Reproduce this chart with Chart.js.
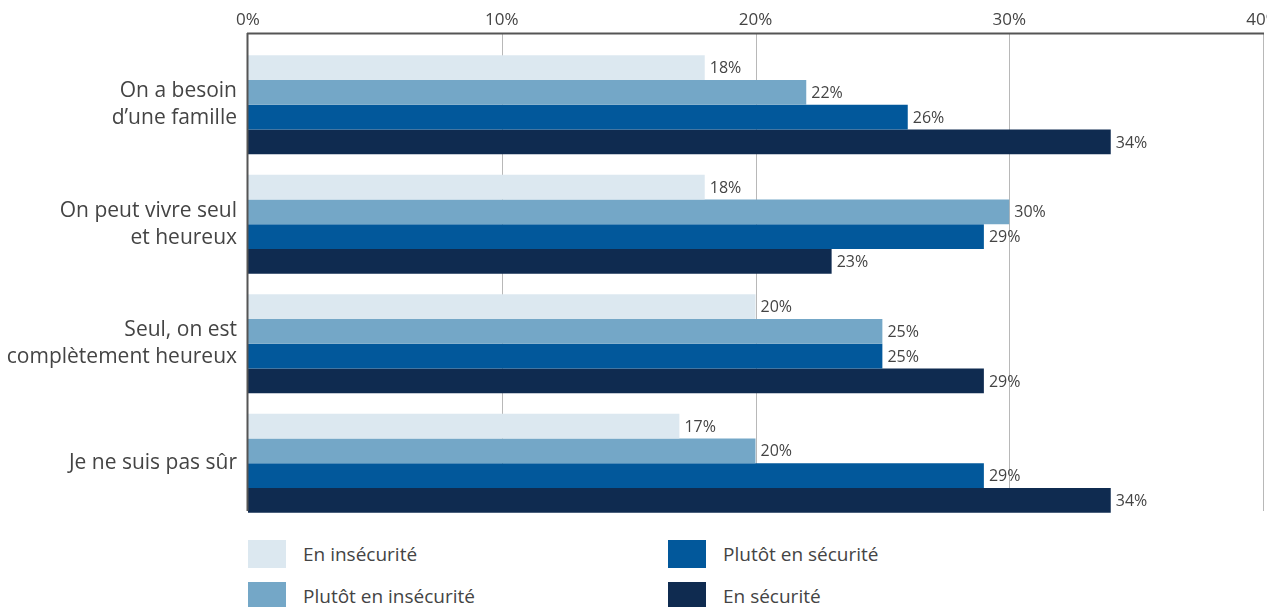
<!DOCTYPE html>
<html>
<head>
<meta charset="utf-8">
<script src="https://cdn.jsdelivr.net/npm/chart.js@4"></script>
<style>
  body { margin: 0; background: #fff; font-family: "Open Sans", sans-serif; }
  #wrap { position: relative; width: 1267px; height: 607px; overflow: hidden; }
  #chart { position: absolute; left: 0; top: 0; }
  .item { position: absolute; display: flex; align-items: center; height: 28px; font-size: 19px; color: #444; }
  .item span.box { width: 38px; height: 28px; margin-right: 17px; }
</style>
</head>
<body>
<div id="wrap">
  <canvas id="chart" width="1267" height="540"></canvas>
  <div id="legend"></div>
</div>
<script>
const categories = [["On a besoin", "d’une famille"], ["On peut vivre seul", "et heureux"], ["Seul, on est", "complètement heureux"], "Je ne suis pas sûr"];
const seriesNames = ["En insécurité", "Plutôt en insécurité", "Plutôt en sécurité", "En sécurité"];
const enInsecurite = [18, 18, 20, 17];
const plutotInsecurite = [22, 30, 25, 20];
const plutotSecurite = [26, 29, 25, 29];
const enSecurite = [34, 23, 29, 34];
const xTicks = [0, 10, 20, 30, 40];
const colors = ['#dce8f0', '#74a7c7', '#02589b', '#0f2b50'];

const seriesData = [enInsecurite, plutotInsecurite, plutotSecurite, enSecurite];

// gridlines + axis frame sit 12px above the category band (as in the original)
const framePlugin = {
    id: 'frame',
    beforeDatasetsDraw(chart) {
        const ctx = chart.ctx, a = chart.chartArea, x = chart.scales.x;
        ctx.save();
        ctx.strokeStyle = '#b8b8b8';
        ctx.lineWidth = 1;
        xTicks.slice(1).forEach(v => {
            const px = Math.round(x.getPixelForValue(v)) + 0.5;
            ctx.beginPath();
            ctx.moveTo(px, a.top - 12);
            ctx.lineTo(px, a.bottom - 12);
            ctx.stroke();
        });
        ctx.restore();
    },
    afterDatasetsDraw(chart) {
        const ctx = chart.ctx, a = chart.chartArea;
        ctx.save();
        ctx.strokeStyle = '#555';
        ctx.lineWidth = 2;
        ctx.beginPath();
        ctx.moveTo(a.left - 1, a.top - 11.5);
        ctx.lineTo(a.right + 1, a.top - 11.5);
        ctx.moveTo(a.left - 0.5, a.top - 12);
        ctx.lineTo(a.left - 0.5, a.bottom - 12);
        ctx.stroke();

        ctx.font = '16px "Open Sans"';
        ctx.fillStyle = '#444';
        ctx.textBaseline = 'middle';
        ctx.textAlign = 'left';
        chart.data.datasets.forEach((ds, i) => {
            chart.getDatasetMeta(i).data.forEach((bar, j) => {
                ctx.fillText(ds.data[j] + '%', bar.x + 5, bar.y + 1);
            });
        });
        ctx.restore();
    }
};

const ctx = document.getElementById('chart').getContext('2d');
new Chart(ctx, {
    type: 'bar',
    data: {
        labels: categories,
        datasets: seriesNames.map((name, i) => ({
            label: name,
            data: seriesData[i],
            backgroundColor: colors[i],
            borderWidth: 0,
            categoryPercentage: 0.83,
            barPercentage: 1
        }))
    },
    options: {
        indexAxis: 'y',
        responsive: false,
        animation: false,
        devicePixelRatio: 1,
        layout: { padding: { top: 0, right: 4, bottom: 17, left: 0 } },
        plugins: { legend: { display: false }, tooltip: { enabled: false } },
        scales: {
            x: {
                position: 'top',
                min: 0, max: 40,
                grid: { display: false, drawTicks: false },
                border: { display: false },
                ticks: {
                    stepSize: 10,
                    padding: 15,
                    color: '#444',
                    font: { family: 'Open Sans', size: 17 },
                    callback: v => v + '%'
                },
                afterFit: s => { s.height = 45; s.paddingLeft = 0; s.paddingRight = 0; }
            },
            y: {
                grid: { display: false, drawTicks: false },
                border: { display: false },
                ticks: {
                    padding: 11,
                    color: '#444',
                    font: { family: 'Open Sans', size: 21, lineHeight: 1.3 }
                },
                afterFit: s => { s.width = 248; s.paddingTop = 0; s.paddingBottom = 0; }
            }
        }
    },
    plugins: [framePlugin]
});

const legendPos = [[248, 540], [248, 582], [668, 540], [668, 582]];
const legend = document.getElementById('legend');
seriesNames.forEach((name, i) => {
    legend.innerHTML += `<div class="item" style="left:${legendPos[i][0]}px;top:${legendPos[i][1]}px">
        <span class="box" style="background:${colors[i]}"></span>${name}</div>`;
});
</script>
</body>
</html>
